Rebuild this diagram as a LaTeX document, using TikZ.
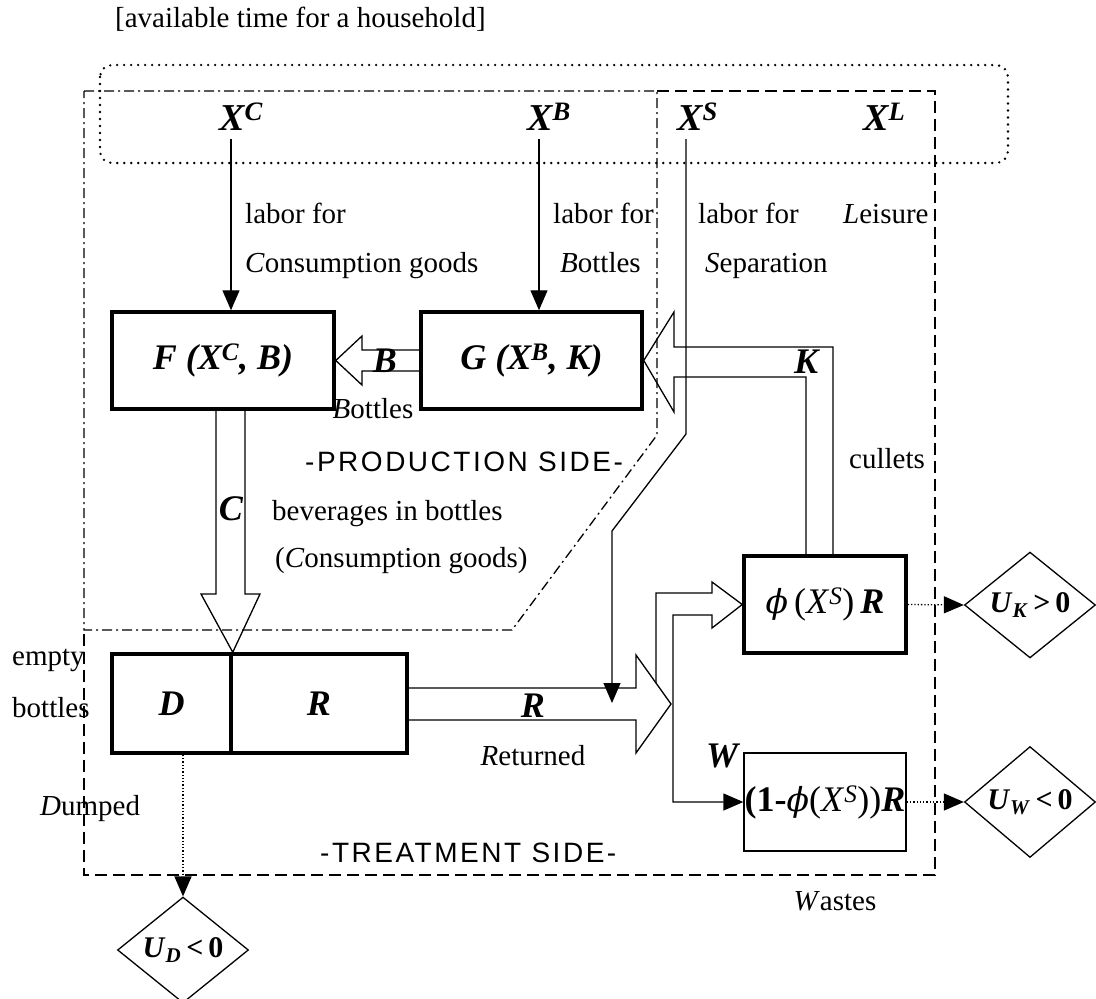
\documentclass[tikz,border=0pt]{standalone}
\usepackage{fontspec}
\setmainfont{Liberation Serif}
\setsansfont{Liberation Sans}
\newfontfamily\grk{DejaVu Serif}
\newfontfamily\spacedsans[LetterSpace=9]{Liberation Sans}
\usetikzlibrary{arrows.meta,shapes.geometric}
\newcommand\fs[1]{\fontsize{#1pt}{#1pt}\selectfont}
\newcommand\bi[1]{\textbf{\textit{#1}}}
\newcommand\phisym{{\grk\itshape\fs{33}ϕ}}
\begin{document}
\begin{tikzpicture}[x=1pt,y=-1pt,
  thinl/.style={line width=1.3pt, line join=miter},
  bbox/.style={draw, line width=3.5pt, inner sep=0pt, font=\fs{36}},
  wbox/.style={draw, line width=1.3pt, inner sep=0pt, font=\fs{36}},
  conn/.style={line width=1.3pt, -{Triangle[length=20pt,width=17pt]}},
  dotconn/.style={line width=1.3pt, dash pattern=on 1.3pt off 2pt, -{Triangle[length=20pt,width=17pt]}},
  dia/.style={draw, shape=diamond, line width=1.3pt, inner sep=0pt, minimum width=131pt, minimum height=98pt, font=\fs{30}},
  txt/.style={font=\fs{29}, inner sep=0pt},
  mth/.style={font=\fs{36}\bfseries\itshape, inner sep=0pt},
  xlab/.style={font=\fs{38}\bfseries\itshape, inner sep=0pt},
  side/.style={font=\spacedsans\fs{28}, inner sep=0pt},
  dotframe/.style={line width=2.6pt, dash pattern=on 0pt off 7pt, line cap=round, rounded corners=12pt},
  dashdotreg/.style={line width=1.3pt, dash pattern=on 10pt off 4pt on 2pt off 4pt},
  dashedreg/.style={line width=1.3pt, dash pattern=on 12pt off 6pt}]
\useasboundingbox (0,0) rectangle (1096,999);

% header and household time frame
\node[txt, anchor=base west] (hdr) at (115,27) {[available time for a household]};
\draw[dotframe] (100,65) rectangle (1008,163);

% production and treatment regions
\draw[dashdotreg] (84,91) -- (657,91) -- (657,435) -- (512,630) -- (84,630) -- cycle;
\draw[dashedreg] (657,91) -- (935,91) -- (935,875) -- (84,875) -- (84,630);

% boxes
\node[bbox, minimum width=222pt, minimum height=97pt] (F) at (223,360.5) {\bi{F (X\textsuperscript{C}, B)}};
\node[bbox, minimum width=221pt, minimum height=97pt] (G) at (531.5,360.5) {\bi{G (X\textsuperscript{B}, K)}};
\node[bbox, minimum width=119pt, minimum height=99pt] (D) at (171.5,703.5) {\bi{D}};
\node[bbox, minimum width=176pt, minimum height=99pt] (R) at (319,703.5) {\bi{R}};
\node[bbox, minimum width=162pt, minimum height=97pt] (phi) at (825,604.5) {\phisym\,(\textit{X}\textsuperscript{\textit{S}})\,\bi{R}};
\node[wbox, minimum width=162pt, minimum height=98pt] (W) at (825,802) {\textbf{(1-}\phisym(\textit{X}\textsuperscript{\textit{S}}))\bi{R}};

% outcome diamonds
\node[dia] (UK) at (1030,605) {\bi{U}\textsubscript{\bi{K}}\textbf{\,>\,0}};
\node[dia] (UW) at (1030,802) {\bi{U}\textsubscript{\bi{W}}\textbf{\,<\,0}};
\node[dia] (UD) at (183,950) {\bi{U}\textsubscript{\bi{D}}\textbf{\,<\,0}};

% time labels
\node[xlab, anchor=base west] (XC) at (219,130) {X\textsuperscript{C}};
\node[xlab, anchor=base west] (XB) at (527,130) {X\textsuperscript{B}};
\node[xlab, anchor=base west] (XS) at (677,130) {X\textsuperscript{S}};
\node[xlab, anchor=base west] (XL) at (863,130) {X\textsuperscript{L}};

% labour arrows
\coordinate (xc) at (231,139);
\coordinate (xb) at (539,139);
\coordinate (xs) at (686,139);
\coordinate (xsend) at (612,703);
\draw[conn] (xc) -- (xc |- F.north);
\draw[conn] (xb) -- (xb |- G.north);

% block arrows
\draw[thinl] (G.west |- 0,350) -- (362,350) -- (362,336) -- (F.east) -- (362,385) -- (362,371) -- (G.west |- 0,371);
\draw[thinl] (216,409) -- (216,594) -- (201,594) -- (D.north east) -- (260,594) -- (245,594) -- (245,409);
\draw[thinl] (R.east |- 0,688) -- (636,688) -- (636,655) -- (671,704) -- (636,753) -- (636,720) -- (R.east |- 0,720);
\draw[thinl] (806,556) -- (806,377) -- (674,377) -- (674,412) -- (G.east) -- (674,312) -- (674,347) -- (833,347) -- (833,556);
\draw[conn, line join=miter] (656,683) -- (656,593) -- (712,593) -- (712,582) -- (phi.west) -- (712,628) -- (712,615) -- (673,615) -- (673,802) -- (W.west);

% separation labour path
\draw[conn] (xs) -- (686,434) -- (612,531) -- (xsend);

% disposal connectors
\draw[dotconn] (phi.east) -- (UK.west);
\draw[dotconn] (W.east) -- (UW.west);
\draw[dotconn] (UD.north |- D.south) -- (UD.north);

% flow labels
\node[mth, anchor=base] (lB) at (385,372) {B};
\node[mth, anchor=base] (lK) at (806,373) {K};
\node[mth, anchor=base] (lC) at (231,520) {C};
\node[mth, anchor=base] (lR) at (533,717) {R};
\node[mth, anchor=base] (lW) at (722,767) {W};

% text labels
\node[txt, anchor=base west] (t1) at (245,223) {labor for};
\node[txt, anchor=base west] (t2) at (245,272) {\textit{C}onsumption goods};
\node[txt, anchor=base west] (t3) at (553,223) {labor for};
\node[txt, anchor=base west] (t4) at (560,272) {\textit{B}ottles};
\node[txt, anchor=base west] (t5) at (698,223) {labor for};
\node[txt, anchor=base west] (t6) at (705,272) {\textit{S}eparation};
\node[txt, anchor=base west] (t7) at (843,223) {\textit{L}eisure};
\node[txt, anchor=base] (t8) at (373,418) {\textit{B}ottles};
\node[txt, anchor=base west] (t9) at (272,520) {beverages in bottles};
\node[txt, anchor=base west] (t10) at (275,567) {(\textit{C}onsumption goods)};
\node[txt, anchor=base west] (t11) at (849,468) {cullets};
\node[txt, anchor=base] (t12) at (533,765) {\textit{R}eturned};
\node[txt, anchor=base] (t13) at (835,910) {\textit{W}astes};
\node[txt, anchor=base west] (t14) at (12,665) {empty};
\node[txt, anchor=base west] (t15) at (12,717) {bottles};
\node[txt, anchor=base west] (t16) at (40,815) {\textit{D}umped};
\node[side, anchor=base west] (ps) at (305,471) {-PRODUCTION SIDE-};
\node[side, anchor=base west] (ts) at (320,862) {-TREATMENT SIDE-};
\end{tikzpicture}
\end{document}
